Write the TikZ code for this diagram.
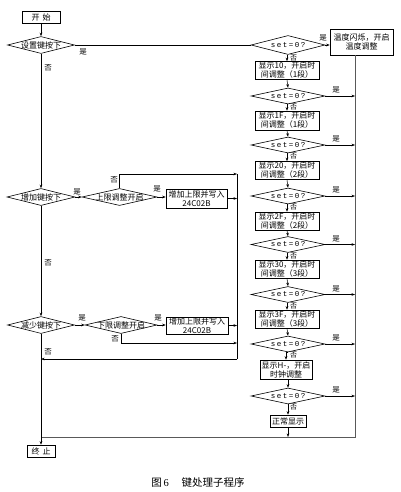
\documentclass[tikz,border=0pt]{standalone}
\usepackage{fontspec}
\setmainfont{Liberation Serif}
\newfontfamily\cjk{Noto Sans CJK SC}
\newfontfamily\setfnt[LetterSpace=20]{Liberation Mono}
\usetikzlibrary{shapes.geometric,arrows.meta}
\begin{document}
\begin{tikzpicture}[x=1pt,y=-1pt,
  box/.style={draw, rectangle, inner sep=0pt, align=center, line width=0.6pt,
    font=\cjk\fontsize{8}{9}\selectfont},
  dia/.style={draw, diamond, aspect=4, inner sep=0pt, line width=0.6pt,
    font=\cjk\fontsize{8}{9}\selectfont},
  sdia/.style={dia, minimum width=74pt, minimum height=16pt},
  tbox/.style={box, minimum width=64pt, minimum height=18pt},
  lbl/.style={font=\cjk\fontsize{7.5}{8}\selectfont, inner sep=0pt},
  arr/.style={-{Stealth[length=3.5pt,width=2.6pt]}, line width=0.5pt},
  ln/.style={line width=0.5pt},
  rl/.style={line width=1pt, draw=black!65}]
\path[fill=white] (0,0) rectangle (400,492);
\useasboundingbox (0,0) rectangle (400,492);

% left column
\node[box, minimum width=38pt, minimum height=12pt] (start) at (41,17) {开\hspace{3pt}始};
\node[dia, minimum width=67pt, minimum height=17pt] (dA) at (41,45) {\makebox[0pt]{设置键按下}};
\node[dia, minimum width=68pt, minimum height=17pt] (dB) at (41,197) {\makebox[0pt]{增加键按下}};
\node[dia, minimum width=75pt, minimum height=17pt] (dC) at (119.5,197) {\makebox[0pt]{上限调整开启}};
\node[box, minimum width=61pt, minimum height=19pt] (bA) at (196.5,198.5) {增加上限并写入\\24C02B};
\node[dia, minimum width=67pt, minimum height=17pt] (dD) at (41,325) {\makebox[0pt]{减少键按下}};
\node[dia, minimum width=72pt, minimum height=17pt] (dE) at (121,325) {\makebox[0pt]{下限调整开启}};
\node[box, minimum width=62pt, minimum height=17pt] (bB) at (197,325.5) {增加上限并写入\\24C02B};
\node[box, minimum width=28pt, minimum height=12pt] (end) at (41,451) {终\hspace{3pt}止};

% right column
\node[sdia, minimum height=19pt] (s1) at (288,45) {\makebox[0pt]{\setfnt\fontsize{7.5}{8}\selectfont set=0?}};
\node[box, minimum width=63pt, minimum height=26pt] (t) at (361.5,42) {温度闪烁，开启\\温度调整};
\node[tbox] (b1) at (287,70.5) {显示10，开启时\\间调整（1段）};
\node[sdia] (s2) at (288,96) {\makebox[0pt]{\setfnt\fontsize{7.5}{8}\selectfont set=0?}};
\node[tbox, minimum height=19pt] (b2) at (287,120.5) {显示1F，开启时\\间调整（1段）};
\node[sdia] (s3) at (288,145) {\makebox[0pt]{\setfnt\fontsize{7.5}{8}\selectfont set=0?}};
\node[tbox] (b3) at (287,170.5) {显示20，开启时\\间调整（2段）};
\node[sdia] (s4) at (288,196) {\makebox[0pt]{\setfnt\fontsize{7.5}{8}\selectfont set=0?}};
\node[tbox] (b4) at (287,221) {显示2F，开启时\\间调整（2段）};
\node[sdia] (s5) at (288,244.5) {\makebox[0pt]{\setfnt\fontsize{7.5}{8}\selectfont set=0?}};
\node[tbox] (b5) at (287,269) {显示30，开启时\\间调整（3段）};
\node[sdia] (s6) at (288,294.5) {\makebox[0pt]{\setfnt\fontsize{7.5}{8}\selectfont set=0?}};
\node[tbox] (b6) at (287,319) {显示3F，开启时\\间调整（3段）};
\node[sdia] (s7) at (288,344) {\makebox[0pt]{\setfnt\fontsize{7.5}{8}\selectfont set=0?}};
\node[box, minimum width=52pt, minimum height=19pt] (b7) at (286,369.5) {显示H-，开启\\时钟调整};
\node[sdia] (s8) at (288,396) {\makebox[0pt]{\setfnt\fontsize{7.5}{8}\selectfont set=0?}};
\node[box, minimum width=36pt, minimum height=12pt] (b8) at (288,421) {正常显示};

\coordinate (Rb) at (355,437);
\coordinate (Lb) at (41,437);
\coordinate (V1) at (237,174);
\coordinate (V2) at (237,359);
\coordinate (V3) at (237,343);

% right connectors
\draw[ln] (dA.east) -- (s1.west);
\draw[arr] (s1.east) -- (s1.east -| t.west);
\draw[rl] (t.south -| Rb) -- (Rb) -- (Lb);
\foreach \i in {2,...,8} {
  \draw[arr] (s\i.east) -- (s\i.east -| Rb);
}
\foreach \i in {1,...,8} {
  \draw[arr] (s\i.south) -- (s\i.south -| b\i.north) -- (b\i.north);
}
\draw[arr] (b1.south) -- (s2.north);
\draw[arr] (b2.south) -- (s3.north);
\draw[arr] (b3.south) -- (s4.north);
\draw[arr] (b4.south) -- (s5.north);
\draw[arr] (b5.south) -- (s6.north);
\draw[arr] (b6.south) -- (s7.north);
\draw[arr] (b7.south) -- (b7.south -| s8.north) -- (s8.north);
\draw[arr] (b8.south) -- (b8.south |- Rb);

% left connectors
\draw[arr] (start) -- (dA);
\draw[arr] (dA.south) -- (dB.north);
\draw[arr] (dB.east) -- (dC.west);
\draw[arr] (dC.east) -- (dC.east -| bA.west);
\draw[arr] (dC.north) |- (V1);
\draw[arr] (bA.east) -- (bA.east -| V1);
\draw[ln] (V1) -- (V2);
\draw[arr] (V2) -- (V2 -| dD.south);
\draw[arr] (dB.south) -- (dD.north);
\draw[arr] (dD.east) -- (dE.west);
\draw[arr] (dE.east) -- (dE.east -| bB.west);
\draw[arr] (bB.east) -- (bB.east -| V1);
\draw[arr] (dE.south) |- (V3);
\draw[arr] (dD.south) -- (end.north);

% labels
\node[lbl] (y0) at (83,52) {是};
\node[lbl] (n0) at (48,68) {否};
\node[lbl] (y1) at (77,192) {是};
\node[lbl] (y2) at (157,189) {是};
\node[lbl] (n2) at (114,180) {否};
\node[lbl] (n1) at (48,263) {否};
\node[lbl] (y3) at (82,318) {是};
\node[lbl] (y4) at (158,318) {是};
\node[lbl] (n4) at (115,339) {否};
\node[lbl] (n3) at (48,352) {否};
\node[lbl] (ys1) at (323,38) {是};
\foreach \i in {2,...,8} {
  \node[lbl] (ys\i) at ([xshift=48pt,yshift=6pt]s\i.center) {是};
}
\foreach \i in {1,...,8} {
  \node[lbl, font=\cjk\fontsize{7}{7}\selectfont] (ns\i) at ([xshift=5.5pt,yshift=-3.2pt]s\i.south) {否};
}
\node[font=\cjk\fontsize{10.5}{12}\selectfont, inner sep=0pt] (cap) at (198,483) {图\,{\rmfamily 6}\hspace{1.2em}键处理子程序};
\end{tikzpicture}
\end{document}
